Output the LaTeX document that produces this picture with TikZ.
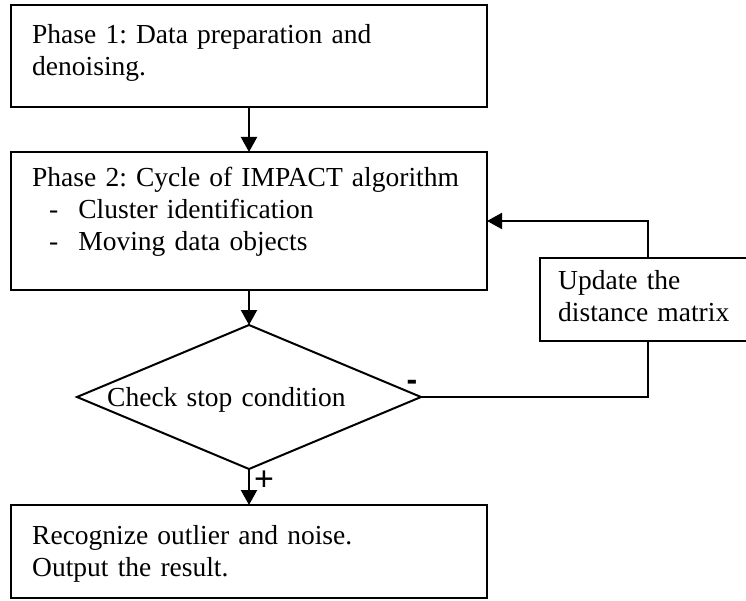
\documentclass[tikz,border=0pt]{standalone}
\usepackage{fontspec}
\setmainfont{Liberation Serif}
\newfontfamily\signfont{Liberation Sans}
\usetikzlibrary{shapes.geometric,arrows.meta}
\frenchspacing
\tikzset{
  boxnode/.style={draw, line width=2pt, rectangle, inner sep=0pt, outer sep=0pt, anchor=north west},
  txt/.style={anchor=base west, inner sep=0pt, text width=460pt, align=left, font=\frenchspacing\fontsize{27.5}{32}\selectfont},
  conn/.style={line width=2pt},
  arr/.style={line width=2.2pt, -{Triangle[length=15pt,width=16pt]}},
  sign/.style={inner sep=0pt, font=\signfont\fontsize{34}{34}\selectfont}
}
\begin{document}
\begin{tikzpicture}[x=1pt,y=-1pt]
\useasboundingbox (0,0) rectangle (746,601);
% boxes
\node[boxnode, minimum width=476pt, minimum height=102pt] (b1) at (11,5) {};
\node[boxnode, minimum width=476pt, minimum height=138pt] (b2) at (11,152) {};
\node[boxnode, minimum width=216pt, minimum height=83pt] (b3) at (540,258) {};
\node[boxnode, minimum width=476pt, minimum height=93pt] (b4) at (11,505) {};
\node[draw, line width=2pt, diamond, aspect=2.39, minimum width=344pt, minimum height=144pt, inner sep=0pt, outer sep=0pt] (d) at (249,397) {};
% texts
\node[txt] (t1) at (32,43.5) {Phase 1: Data preparation and\\denoising.};
\node[txt] (t2) at (32,187) {Phase 2: Cycle of IMPACT algorithm\\\hspace*{17pt}-\hspace*{20pt}Cluster identification\\\hspace*{17pt}-\hspace*{20pt}Moving data objects};
\node[txt, text width=200pt] (t3) at (558,290) {Update the\\distance matrix};
\node[txt] (t4) at (107,406) {Check stop condition};
\node[txt] (t5) at (32,544) {Recognize outlier and noise.\\Output the result.};
% connectors
\draw[arr] (b1.south) -- (b2.north);
\draw[arr] (b2.south) -- (d.north);
\draw[arr] (d.south) -- (b4.north);
\draw[conn] (d.east) -| (b3.south);
\draw[arr, line width=2pt] (b3.north) |- (b2.east);
% signs
\node[sign] (plus) at (264,481) {+};
\node[sign, font=\signfont\bfseries\fontsize{32}{32}\selectfont] (minus) at (412,385) {-};
\end{tikzpicture}
\end{document}
